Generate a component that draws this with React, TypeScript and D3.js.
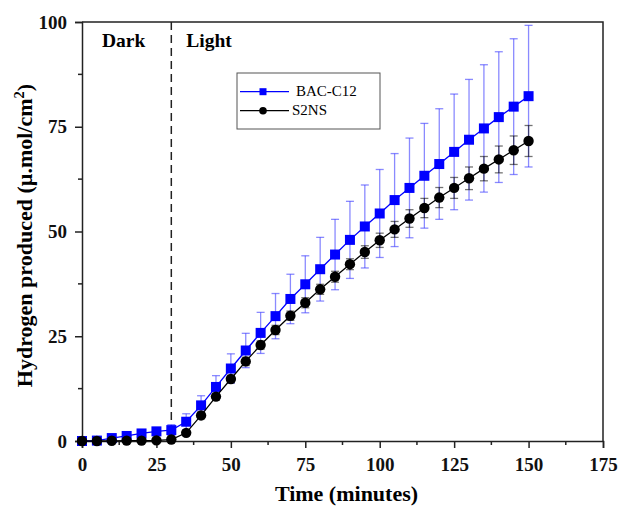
import React, { useEffect, useRef } from "react";
import * as d3 from "d3";

const margin = { top: 22, right: 16, bottom: 69, left: 82 },
  width = 619 - margin.left - margin.right,
  height = 510 - margin.top - margin.bottom;

const time = [
  0, 5, 10, 15, 20, 25, 30, 35, 40, 45, 50, 55, 60, 65, 70, 75, 80, 85, 90, 95,
  100, 105, 110, 115, 120, 125, 130, 135, 140, 145, 150,
];
const bacMean = [
  0, 0.1, 0.7, 1.2, 1.8, 2.3, 2.6, 4.6, 8.5, 12.9, 17.3, 21.6, 25.8, 29.8, 33.9,
  37.4, 41.0, 44.5, 48.0, 51.2, 54.3, 57.5, 60.4, 63.3, 66.1, 69.0, 71.9, 74.6,
  77.3, 79.8, 82.3,
];
const bacErr = [
  0, 0, 0.2, 0.3, 0.4, 0.6, 1.3, 1.9, 2.3, 2.7, 3.5, 4.1, 4.9, 5.4, 5.9, 6.8, 7.6,
  8.4, 9.2, 9.9, 10.5, 11.1, 11.9, 12.5, 13.2, 13.8, 14.4, 15.2, 15.6, 16.2, 16.9,
];
const s2nsMean = [
  0, 0, 0.05, 0.1, 0.1, 0.15, 0.35, 1.95, 6.1, 10.6, 14.8, 19.0, 22.9, 26.5, 29.9,
  33.0, 36.2, 39.2, 42.2, 45.1, 47.9, 50.5, 53.1, 55.6, 58.1, 60.4, 62.7, 65.0,
  67.2, 69.4, 71.6,
];
const s2nsErr = [
  0.1, 0.1, 0.1, 0.1, 0.1, 0.1, 0.1, 0.5, 0.8, 0.8, 0.9, 1.0, 1.0, 1.1, 1.1, 1.2,
  1.2, 1.3, 1.3, 1.5, 1.7, 1.9, 2.1, 2.3, 2.4, 2.5, 2.7, 2.9, 3.2, 3.4, 3.7,
];
const xTicks = [0, 25, 50, 75, 100, 125, 150, 175];
const yTicks = [0, 25, 50, 75, 100];
const lightStart = 30;

const serif = "Liberation Serif, Times New Roman, Times, serif";

export default function App() {
  const ref = useRef<SVGSVGElement | null>(null);

  useEffect(() => {
    const root = d3.select(ref.current);
    root.selectAll("*").remove();

    const x = d3.scaleLinear().domain([0, 175]).range([0, width]);
    const y = d3.scaleLinear().domain([0, 100]).range([height, 0]);

    const svg = root
      .append("g")
      .attr("font-family", serif)
      .attr("transform", "translate(" + margin.left + "," + margin.top + ")");

    // frame (top + right)
    svg
      .append("path")
      .attr("d", `M0,0H${width}V${height}`)
      .attr("fill", "none")
      .attr("stroke", "#222")
      .attr("stroke-width", 1.5);

    // x axis
    const xMinor = d3.range(12.5, 175, 25);
    const gx = svg.append("g").attr("transform", "translate(0," + height + ")");
    gx.call(
      d3.axisBottom(x).tickValues(xTicks).tickSize(7).tickPadding(3).tickFormat(d3.format("d"))
    );
    gx.selectAll("line.minor")
      .data(xMinor)
      .enter()
      .append("line")
      .attr("x1", (d) => x(d))
      .attr("x2", (d) => x(d))
      .attr("y1", 0)
      .attr("y2", 4)
      .attr("stroke", "#222")
      .attr("stroke-width", 1.5);

    // y axis
    const yMinor = d3.range(12.5, 100, 25);
    const gy = svg.append("g");
    gy.call(
      d3.axisLeft(y).tickValues(yTicks).tickSize(7).tickPadding(8).tickFormat(d3.format("d"))
    );
    gy.selectAll("line.minor")
      .data(yMinor)
      .enter()
      .append("line")
      .attr("x1", 0)
      .attr("x2", -4)
      .attr("y1", (d) => y(d))
      .attr("y2", (d) => y(d))
      .attr("stroke", "#222")
      .attr("stroke-width", 1.5);

    [gx, gy].forEach((g) => {
      g.attr("font-family", serif).attr("font-size", 19).attr("font-weight", "bold");
      g.select(".domain").attr("stroke", "#222").attr("stroke-width", 1.5);
      g.selectAll(".tick line").attr("stroke", "#222").attr("stroke-width", 1.5);
      g.selectAll(".tick text").attr("fill", "#111");
    });
    gx.selectAll(".tick text").attr("dy", "1.05em");

    // dark / light divider
    svg
      .append("line")
      .attr("x1", x(lightStart))
      .attr("x2", x(lightStart))
      .attr("y1", 0)
      .attr("y2", height)
      .attr("stroke", "#222")
      .attr("stroke-width", 1.5)
      .attr("stroke-dasharray", "8,5");

    svg
      .append("text")
      .attr("x", 20)
      .attr("y", 25)
      .attr("font-size", 19.5)
      .attr("font-weight", "bold")
      .text("Dark");
    svg
      .append("text")
      .attr("x", x(lightStart) + 15)
      .attr("y", 25)
      .attr("font-size", 19.5)
      .attr("font-weight", "bold")
      .text("Light");

    const series = [
      { name: "BAC-C12", mean: bacMean, err: bacErr, color: "#0000ff", errColor: "rgba(60,60,255,0.6)", shape: "square" },
      { name: "S2NS", mean: s2nsMean, err: s2nsErr, color: "#000000", errColor: "rgba(0,0,0,0.55)", shape: "circle" },
    ];

    const line = d3
      .line<number>()
      .x((d, i) => x(time[i]))
      .y((d) => y(d));

    series.forEach((s) => {
      const g = svg.append("g");
      // error bars
      const eb = g
        .selectAll("g.err")
        .data(time.map((t, i) => ({ t, m: s.mean[i], e: s.err[i] })))
        .enter()
        .append("g")
        .attr("stroke", s.errColor)
        .attr("stroke-width", 1.3);
      eb.append("line")
        .attr("x1", (d) => x(d.t))
        .attr("x2", (d) => x(d.t))
        .attr("y1", (d) => y(d.m + d.e))
        .attr("y2", (d) => y(d.m - d.e));
      eb.append("line")
        .attr("x1", (d) => x(d.t) - 4)
        .attr("x2", (d) => x(d.t) + 4)
        .attr("y1", (d) => y(d.m + d.e))
        .attr("y2", (d) => y(d.m + d.e));
      eb.append("line")
        .attr("x1", (d) => x(d.t) - 4)
        .attr("x2", (d) => x(d.t) + 4)
        .attr("y1", (d) => y(d.m - d.e))
        .attr("y2", (d) => y(d.m - d.e));

      g.append("path")
        .datum(s.mean)
        .attr("fill", "none")
        .attr("stroke", s.color)
        .attr("stroke-width", 1.3)
        .attr("d", line);

      if (s.shape === "square") {
        g.selectAll("rect")
          .data(s.mean)
          .enter()
          .append("rect")
          .attr("x", (d, i) => x(time[i]) - 5)
          .attr("y", (d) => y(d) - 5)
          .attr("width", 10)
          .attr("height", 10)
          .attr("fill", s.color);
      } else {
        g.selectAll("circle")
          .data(s.mean)
          .enter()
          .append("circle")
          .attr("cx", (d, i) => x(time[i]))
          .attr("cy", (d) => y(d))
          .attr("r", 5.2)
          .attr("fill", s.color);
      }
    });

    // legend
    const lg = svg.append("g").attr("transform", "translate(155,51)");
    lg.append("rect")
      .attr("width", 143)
      .attr("height", 56)
      .attr("fill", "white")
      .attr("stroke", "#555")
      .attr("stroke-width", 1);
    series.forEach((s, i) => {
      const yy = 18.7 + i * 19;
      lg.append("line")
        .attr("x1", 3)
        .attr("x2", 52)
        .attr("y1", yy)
        .attr("y2", yy)
        .attr("stroke", s.color)
        .attr("stroke-width", 1.3);
      if (s.shape === "square") {
        lg.append("rect")
          .attr("x", 22.5)
          .attr("y", yy - 3.5)
          .attr("width", 7)
          .attr("height", 7)
          .attr("fill", s.color);
      } else {
        lg.append("circle").attr("cx", 26).attr("cy", yy).attr("r", 3.8).attr("fill", s.color);
      }
      lg.append("text")
        .attr("x", i === 0 ? 59 : 55)
        .attr("y", yy + 4)
        .attr("font-size", 15)
        .text(s.name);
    });

    // axis titles
    svg
      .append("text")
      .attr("x", width / 2 + 4)
      .attr("y", height + 60)
      .attr("text-anchor", "middle")
      .attr("font-size", 22)
      .attr("font-weight", "bold")
      .text("Time (minutes)");

    const yt = svg
      .append("text")
      .attr("transform", `translate(-50.5,${height / 2 + 4}) rotate(-90)`)
      .attr("text-anchor", "middle")
      .attr("font-size", 22)
      .attr("font-weight", "bold");
    yt.append("tspan").text("Hydrogen produced (\u00b5.mol/cm");
    yt.append("tspan").attr("dy", -8).attr("font-size", 14.5).text("2");
    yt.append("tspan").attr("dy", 8).text(")");
  }, []);

  return (
    <svg
      ref={ref}
      width={619}
      height={510}
      style={{ display: "block", position: "absolute", left: 0, top: 0, background: "white" }}
    />
  );
}
